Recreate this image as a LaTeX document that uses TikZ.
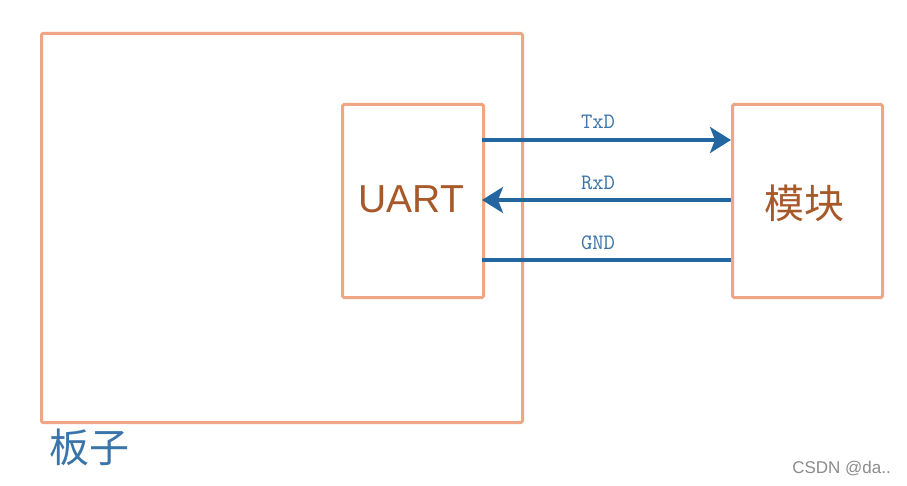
\documentclass[tikz,border=0pt]{standalone}
\usepackage{fontspec}
\setmainfont{Liberation Sans}
\newfontfamily\cjk{Noto Sans CJK SC}
\usetikzlibrary{arrows.meta}
\definecolor{boxor}{HTML}{F0A686}
\definecolor{txtor}{HTML}{A8592A}
\definecolor{lnblue}{HTML}{2466A0}
\definecolor{lblblue}{HTML}{3A74A8}
\tikzset{
  blk/.style={draw=boxor, line width=3pt, rounded corners=1.5pt, fill=none},
  sig/.style={draw=lnblue, line width=3.3pt},
  sigarr/.style={sig, -{Stealth[length=21pt,width=26pt,inset=5pt]}},
  siglbl/.style={font=\ttfamily\fontsize{22}{24}\selectfont, text=lblblue, inner sep=0pt},
}
\begin{document}
\begin{tikzpicture}[x=1pt,y=-1pt]
\useasboundingbox (0,0) rectangle (907,486);
\fill[white] (0,0) rectangle (907,486);
% boxes
\node[blk, minimum width=481pt, minimum height=389pt, anchor=north west, inner sep=0pt] (board) at (40,32) {};
\node[blk, minimum width=141pt, minimum height=193pt, anchor=north west, inner sep=0pt] (uart) at (341,103) {};
\node[blk, minimum width=150pt, minimum height=193pt, anchor=north west, inner sep=0pt] (mod) at (731,103) {};
% texts
\node[text=txtor, font=\fontsize{39}{42}\selectfont, inner sep=0pt] (uartlbl) at (411.5,199) {UART};
\node[text=txtor, font=\cjk\fontsize{40}{42}\selectfont, inner sep=0pt] (modlbl) at (804,203) {模块};
\node[text=lblblue, font=\cjk\fontsize{40}{42}\selectfont, inner sep=0pt, anchor=west] (boardlbl) at (49,447) {板子};
% signal endpoints
\coordinate (t1) at (482,140); \coordinate (t2) at (731,140);
\coordinate (r1) at (482,200); \coordinate (r2) at (731,200);
\coordinate (g1) at (482,260); \coordinate (g2) at (731,260);
\draw[sigarr] (t1) -- (t2);
\draw[sigarr] (r2) -- (r1);
\draw[sig] (g1) -- (g2);
\node[siglbl] (txd) at (598,122) {TxD};
\node[siglbl] (rxd) at (598,183) {RxD};
\node[siglbl] (gnd) at (598,243) {GND};
% watermark
\node[text=black!45, font=\fontsize{17}{19}\selectfont, inner sep=0pt, anchor=east] (wm) at (891,469) {CSDN @da..};
\end{tikzpicture}
\end{document}
